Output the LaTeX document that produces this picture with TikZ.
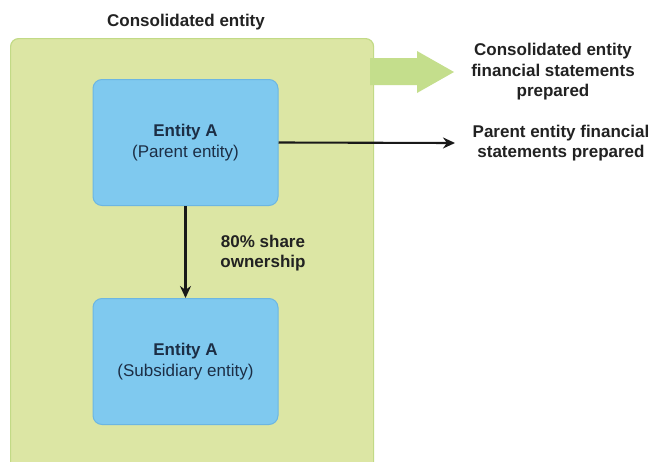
\documentclass[tikz,border=0pt]{standalone}
\usepackage{fontspec}
\setmainfont{Liberation Sans}
\usetikzlibrary{arrows.meta}
\definecolor{gfill}{HTML}{DCE6A4}
\definecolor{gline}{HTML}{C2DA86}
\definecolor{arrfill}{HTML}{C4DE8C}
\definecolor{bfill}{HTML}{7FC9EF}
\definecolor{bline}{HTML}{6CB6E2}
\definecolor{btext}{HTML}{1C2E45}
\definecolor{ttext}{HTML}{222222}
\begin{document}
\begin{tikzpicture}[x=1pt,y=-1pt,
  greenbox/.style={draw=gline, line width=1.2pt, fill=gfill, rounded corners=8pt},
  bluebox/.style={draw=bline, line width=1pt, fill=bfill, rounded corners=9pt,
    minimum width=185pt, minimum height=126pt, align=center, text=btext,
    font=\fontsize{17}{21.5}\selectfont},
  lbl/.style={align=center, text=ttext, font=\bfseries\fontsize{17}{20.5}\selectfont},
  conn/.style={draw=black!90, line width=2.1pt, -{Stealth[length=12pt,width=11pt]}}]
\clip (0,0) rectangle (651,461);
\fill[white] (0,0) rectangle (651,461);
% consolidated entity box
\node[greenbox, minimum width=363pt, minimum height=440pt, anchor=north west, inner sep=0pt] (cons) at (10,38) {};
\node[lbl, anchor=base] (constitle) at (186,26) {Consolidated entity};
% big green arrow
\fill[arrfill] (370,58) -- (417,58) -- (417,51) -- (454,72) -- (417,93) -- (417,85) -- (370,85) -- cycle;
% blue boxes
\node[bluebox] (parent) at (185.5,142.5) {\textbf{Entity A}\\(Parent entity)};
\node[bluebox] (sub) at (185.5,361.5) {\textbf{Entity A}\\(Subsidiary entity)};
% labels
\node[lbl] (consfs) at (553,72) {Consolidated entity\\financial statements\\prepared};
\node[lbl] (parentfs) at (561,143) {Parent entity financial\\statements prepared};
\node[lbl] (share) at (263,253) {80\% share\\ownership};
% connectors
\coordinate (pend) at (455,143);
\draw[conn] (parent.east) -- (pend);
\draw[conn] (parent.south) -- (sub.north);
\end{tikzpicture}
\end{document}
